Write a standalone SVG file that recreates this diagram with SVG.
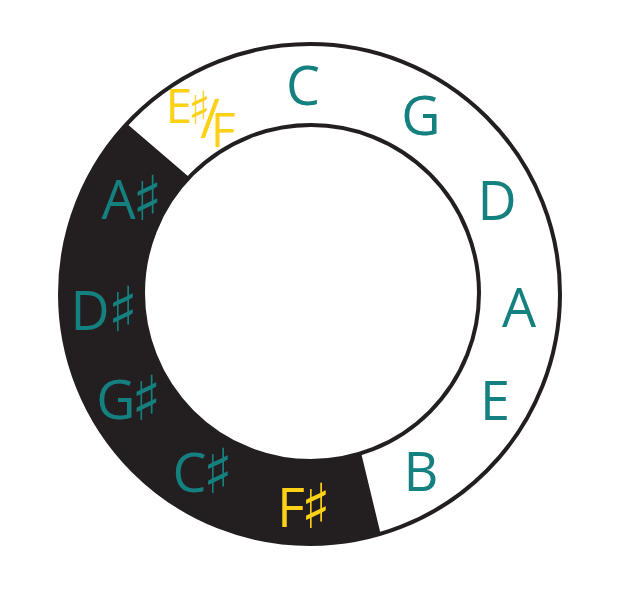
<svg xmlns="http://www.w3.org/2000/svg" width="623" height="600" viewBox="0 0 623 600">
<style>
.ring{fill:none;stroke:#231f20;stroke-width:4}
.n{font-family:"Open Sans","Noto Sans",sans-serif;font-size:54px;fill:#14807f;text-anchor:middle}
.y{fill:#fcd116}
.s{font-family:"DejaVu Sans",sans-serif;font-size:62px;font-weight:bold}
</style>
<rect width="623" height="600" fill="#ffffff"/>
<g id="ring">
<path d="M380.6,533.8 A250,250 0 0 1 126.9,123.8 L189.3,177.2 A168,168 0 0 0 361.2,453.3 Z" fill="#231f20"/>
<circle class="ring" cx="310" cy="294" r="250"/>
<circle class="ring" cx="311" cy="293" r="168" fill="#ffffff"/>
</g>
<g id="C"><text class="n" x="303" y="105">C</text></g>
<g id="G"><text class="n" x="421" y="135">G</text></g>
<g id="D"><text class="n" x="497" y="220">D</text></g>
<g id="A"><text class="n" x="519" y="327">A</text></g>
<g id="E"><text class="n" x="495" y="420">E</text></g>
<g id="B"><text class="n" x="421" y="491">B</text></g>
<g id="Fs"><text class="n y" x="291" y="527">F<tspan class="s" x="316" y="528">♯</tspan></text></g>
<g id="Cs"><text class="n" x="189.5" y="492">C<tspan class="s" x="218" y="493">♯</tspan></text></g>
<g id="Gs"><text class="n" x="116" y="419">G<tspan class="s" x="146.5" y="420">♯</tspan></text></g>
<g id="Ds"><text class="n" x="90" y="330">D<tspan class="s" x="123" y="331">♯</tspan></text></g>
<g id="As"><text class="n" x="118.5" y="219">A<tspan class="s" x="147.5" y="220">♯</tspan></text></g>
<g id="EsF"><text class="n y" style="font-size:48px" x="179" y="123">E<tspan class="s" style="font-size:46px" x="199.5" y="124">♯</tspan><tspan x="210" y="138" style="font-size:54px">/</tspan><tspan x="223.5" y="147">F</tspan></text></g>
</svg>
